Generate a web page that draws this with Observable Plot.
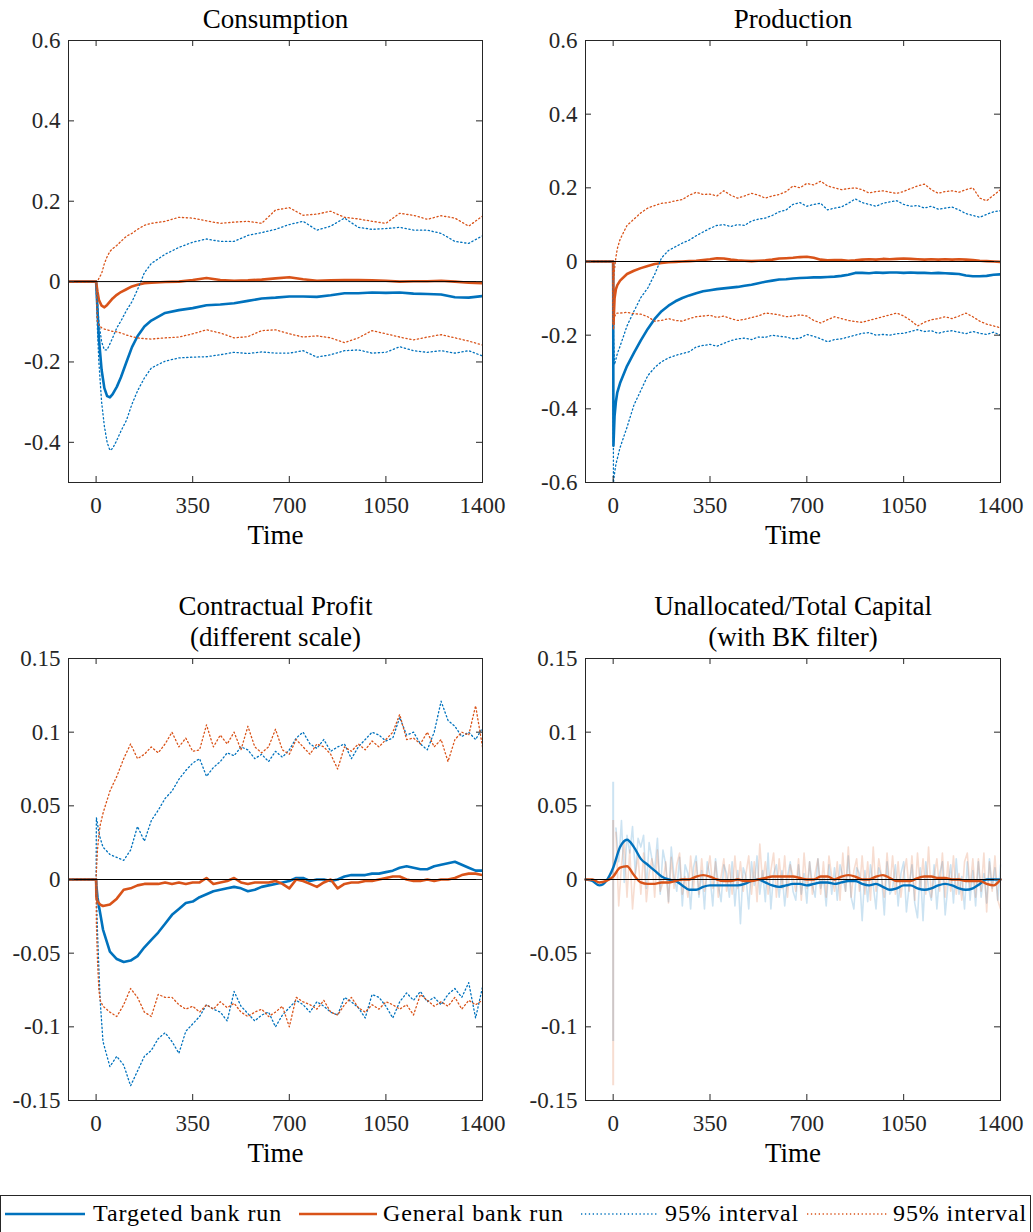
<!DOCTYPE html>
<html><head><meta charset="utf-8">
<script src="https://cdn.jsdelivr.net/npm/d3@7"></script>
<script src="https://cdn.jsdelivr.net/npm/@observablehq/plot@0.6"></script>
<style>
html,body{margin:0;padding:0;background:#fff;}
body{width:1033px;height:1232px;overflow:hidden;position:relative;font-family:"Liberation Serif","Times New Roman",serif;}
.panel{position:absolute;}
.panel svg{overflow:visible;}
.panel svg text{font-family:"Liberation Serif","Times New Roman",serif;}
#legend{position:absolute;left:0;top:1195px;width:1029px;height:50px;border:1px solid #262626;background:#fff;}
.lg-line{position:absolute;top:16px;}
.lg-text{position:absolute;top:1px;font-size:24px;letter-spacing:0.9px;color:#000;white-space:nowrap;line-height:32px;}
</style></head>
<body>
<div id="p1" class="panel" style="left:0;top:0"></div>
<div id="p2" class="panel" style="left:516px;top:0"></div>
<div id="p3" class="panel" style="left:0;top:580px"></div>
<div id="p4" class="panel" style="left:516px;top:580px"></div>
<div id="legend"></div>
<script>
// ---------- shared axis data ----------
const xTicks = [0, 350, 700, 1050, 1400];
const xTickLabels = ["0", "350", "700", "1050", "1400"];
const seriesNames = ["Targeted bank run", "General bank run", "95% interval", "95% interval"];

// ---------- Consumption ----------
const consTitle = "Consumption";
const consYTicks = [-0.4, -0.2, 0, 0.2, 0.4, 0.6];
const consYLabels = ["-0.4", "-0.2", "0", "0.2", "0.4", "0.6"];
const consTime = [-100,0,5,10,20,30,40,50,60,75,90,110,130,150,175,200,250,300,350,400,450,500,550,600,650,700,750,800,850,900,950,1000,1050,1100,1150,1200,1250,1300,1350,1400];
const consTargeted = [0,0,-0.07,-0.14,-0.22,-0.265,-0.285,-0.288,-0.28,-0.262,-0.238,-0.2,-0.163,-0.136,-0.112,-0.097,-0.078,-0.071,-0.066,-0.059,-0.057,-0.054,-0.048,-0.042,-0.04,-0.037,-0.037,-0.038,-0.034,-0.029,-0.029,-0.027,-0.028,-0.027,-0.03,-0.031,-0.032,-0.039,-0.04,-0.036];
const consGeneral = [0,0,-0.025,-0.045,-0.06,-0.064,-0.058,-0.05,-0.042,-0.033,-0.026,-0.019,-0.012,-0.008,-0.004,-0.003,-0.001,0,0.004,0.009,0.004,0.002,0.003,0.005,0.008,0.011,0.006,0.002,0.003,0.004,0.004,0.003,0.002,0,0.001,0.001,0.002,0,-0.003,-0.004];
const consTargetedHi = [0,0,-0.05,-0.1,-0.15,-0.17,-0.17,-0.155,-0.14,-0.115,-0.098,-0.072,-0.05,-0.02,0.022,0.045,0.068,0.085,0.098,0.106,0.1,0.1,0.115,0.122,0.13,0.142,0.15,0.128,0.138,0.158,0.135,0.13,0.132,0.135,0.128,0.128,0.12,0.1,0.095,0.114];
const consTargetedLo = [0,0,-0.12,-0.2,-0.3,-0.36,-0.4,-0.42,-0.415,-0.395,-0.372,-0.345,-0.305,-0.272,-0.24,-0.215,-0.198,-0.19,-0.188,-0.187,-0.182,-0.176,-0.179,-0.175,-0.178,-0.178,-0.172,-0.188,-0.182,-0.172,-0.17,-0.178,-0.176,-0.162,-0.172,-0.176,-0.172,-0.178,-0.172,-0.185];
const consGeneralHi = [0,0,0,0.008,0.02,0.045,0.062,0.075,0.082,0.09,0.1,0.113,0.12,0.13,0.14,0.145,0.15,0.16,0.158,0.151,0.145,0.148,0.15,0.145,0.178,0.184,0.165,0.168,0.175,0.16,0.156,0.15,0.145,0.17,0.165,0.155,0.164,0.158,0.138,0.163];
const consGeneralLo = [0,0,-0.1,-0.108,-0.115,-0.118,-0.12,-0.122,-0.124,-0.125,-0.128,-0.133,-0.137,-0.14,-0.142,-0.143,-0.14,-0.138,-0.13,-0.12,-0.128,-0.14,-0.137,-0.122,-0.12,-0.13,-0.138,-0.135,-0.14,-0.152,-0.14,-0.122,-0.13,-0.138,-0.145,-0.138,-0.132,-0.14,-0.148,-0.158];

// ---------- Production ----------
const prodTitle = "Production";
const prodYTicks = [-0.6, -0.4, -0.2, 0, 0.2, 0.4, 0.6];
const prodYLabels = ["-0.6", "-0.4", "-0.2", "0", "0.2", "0.4", "0.6"];
const prodTime = [-100,0,1,5,10,15,25,50,75,100,125,150,175,200,225,250,275,300,325,350,375,400,425,450,475,500,525,550,575,600,625,650,675,700,725,750,775,800,825,850,875,900,925,950,975,1000,1025,1050,1075,1100,1125,1150,1175,1200,1225,1250,1275,1300,1325,1350,1375,1400];
const prodTargeted = [0,0,-0.5,-0.42,-0.38,-0.355,-0.33,-0.284,-0.248,-0.214,-0.183,-0.156,-0.135,-0.12,-0.108,-0.099,-0.092,-0.086,-0.081,-0.078,-0.075,-0.073,-0.071,-0.069,-0.066,-0.063,-0.059,-0.055,-0.052,-0.049,-0.048,-0.046,-0.045,-0.044,-0.043,-0.043,-0.042,-0.041,-0.039,-0.036,-0.031,-0.031,-0.032,-0.03,-0.031,-0.03,-0.03,-0.031,-0.03,-0.031,-0.031,-0.032,-0.031,-0.032,-0.033,-0.034,-0.038,-0.04,-0.04,-0.039,-0.036,-0.035];
const prodGeneral = [0,0,-0.17,-0.1,-0.075,-0.064,-0.052,-0.034,-0.025,-0.018,-0.012,-0.007,-0.004,-0.002,-0.001,0,0.001,0.002,0.004,0.006,0.009,0.008,0.005,0.003,0.002,0.001,0.002,0.003,0.005,0.008,0.009,0.01,0.012,0.013,0.01,0.005,0.003,0.004,0.004,0.002,0.003,0.005,0.006,0.005,0.007,0.006,0.007,0.008,0.007,0.006,0.005,0.006,0.005,0.006,0.005,0.006,0.005,0.004,0.002,0.001,0,-0.001];
const prodTargetedHi = [0,0,-0.2,-0.28,-0.265,-0.25,-0.23,-0.175,-0.135,-0.098,-0.072,-0.035,0.01,0.03,0.04,0.05,0.058,0.07,0.08,0.09,0.098,0.1,0.095,0.1,0.098,0.11,0.115,0.118,0.125,0.135,0.14,0.155,0.16,0.15,0.155,0.158,0.14,0.145,0.148,0.158,0.17,0.16,0.155,0.15,0.158,0.162,0.165,0.155,0.15,0.152,0.145,0.15,0.142,0.145,0.148,0.14,0.13,0.125,0.12,0.128,0.135,0.138];
const prodTargetedLo = [0,0,-0.6,-0.575,-0.55,-0.535,-0.505,-0.45,-0.39,-0.35,-0.31,-0.288,-0.272,-0.262,-0.255,-0.25,-0.245,-0.232,-0.228,-0.225,-0.23,-0.222,-0.215,-0.21,-0.208,-0.212,-0.205,-0.206,-0.2,-0.203,-0.205,-0.21,-0.208,-0.198,-0.203,-0.21,-0.218,-0.212,-0.21,-0.205,-0.2,-0.195,-0.193,-0.2,-0.198,-0.2,-0.196,-0.195,-0.19,-0.185,-0.19,-0.188,-0.195,-0.19,-0.188,-0.192,-0.196,-0.19,-0.195,-0.198,-0.192,-0.2];
const prodGeneralHi = [0,0,-0.05,-0.02,0.012,0.035,0.06,0.098,0.115,0.132,0.145,0.152,0.158,0.16,0.165,0.168,0.18,0.188,0.182,0.183,0.178,0.192,0.18,0.172,0.178,0.185,0.18,0.172,0.178,0.182,0.19,0.205,0.2,0.212,0.208,0.218,0.205,0.2,0.195,0.198,0.2,0.195,0.186,0.19,0.192,0.188,0.185,0.19,0.198,0.205,0.21,0.195,0.185,0.19,0.192,0.188,0.195,0.2,0.172,0.165,0.18,0.195];
const prodGeneralLo = [0,0,-0.185,-0.15,-0.142,-0.14,-0.14,-0.138,-0.142,-0.143,-0.15,-0.162,-0.16,-0.155,-0.16,-0.162,-0.155,-0.15,-0.148,-0.146,-0.152,-0.148,-0.155,-0.16,-0.157,-0.152,-0.148,-0.14,-0.142,-0.145,-0.15,-0.148,-0.145,-0.148,-0.16,-0.167,-0.158,-0.15,-0.155,-0.16,-0.163,-0.165,-0.16,-0.155,-0.15,-0.145,-0.14,-0.148,-0.16,-0.175,-0.165,-0.158,-0.155,-0.15,-0.155,-0.148,-0.14,-0.15,-0.162,-0.17,-0.175,-0.18];

// ---------- Contractual Profit ----------
const profTitle = "Contractual Profit\n(different scale)";
const profYTicks = [-0.15, -0.1, -0.05, 0, 0.05, 0.1, 0.15];
const profYLabels = ["-0.15", "-0.1", "-0.05", "0", "0.05", "0.1", "0.15"];
const profTime = [-100,0,1,5,10,15,25,50,75,100,125,150,175,200,225,250,275,300,325,350,375,400,425,450,475,500,525,550,575,600,625,650,675,700,725,750,775,800,825,850,875,900,925,950,975,1000,1025,1050,1075,1100,1125,1150,1175,1200,1225,1250,1275,1300,1325,1350,1375,1400];
const profTargeted = [0,0,-0.004,-0.012,-0.018,-0.023,-0.034,-0.049,-0.054,-0.056,-0.055,-0.052,-0.046,-0.041,-0.036,-0.03,-0.024,-0.02,-0.016,-0.015,-0.012,-0.01,-0.008,-0.007,-0.006,-0.005,-0.006,-0.008,-0.007,-0.005,-0.004,-0.003,-0.002,-0.001,0.001,0.001,-0.001,0,0,-0.001,0,0.002,0.003,0.003,0.003,0.004,0.004,0.005,0.006,0.008,0.009,0.008,0.007,0.007,0.009,0.01,0.011,0.012,0.01,0.008,0.006,0.006];
const profGeneral = [0,0,-0.012,-0.015,-0.016,-0.017,-0.018,-0.017,-0.013,-0.007,-0.006,-0.004,-0.003,-0.003,-0.003,-0.002,-0.003,-0.002,-0.003,-0.002,-0.002,0.001,-0.003,-0.002,-0.001,0.001,-0.002,-0.003,-0.002,-0.002,-0.002,-0.001,-0.003,-0.006,0,-0.001,-0.003,-0.005,-0.002,0,-0.006,-0.003,-0.002,-0.002,-0.001,-0.001,0,0.001,0.002,0.002,0,-0.001,-0.001,0,-0.001,0,0,0.001,0.003,0.004,0.004,0.003];
const profTargetedHi = [0,0,0.042,0.038,0.032,0.028,0.022,0.017,0.015,0.013,0.02,0.036,0.026,0.04,0.047,0.055,0.06,0.068,0.074,0.079,0.082,0.07,0.076,0.08,0.086,0.084,0.09,0.088,0.082,0.085,0.08,0.087,0.083,0.088,0.096,0.1,0.092,0.089,0.095,0.087,0.09,0.092,0.082,0.09,0.095,0.1,0.098,0.094,0.096,0.11,0.098,0.1,0.092,0.088,0.1,0.121,0.108,0.104,0.097,0.1,0.095,0.103];
const profTargetedLo = [0,0,-0.01,-0.035,-0.06,-0.083,-0.11,-0.127,-0.12,-0.126,-0.14,-0.13,-0.12,-0.116,-0.108,-0.104,-0.11,-0.118,-0.103,-0.098,-0.093,-0.085,-0.088,-0.09,-0.096,-0.076,-0.086,-0.091,-0.096,-0.092,-0.09,-0.1,-0.092,-0.087,-0.082,-0.085,-0.09,-0.083,-0.086,-0.09,-0.092,-0.08,-0.083,-0.087,-0.094,-0.078,-0.08,-0.086,-0.094,-0.083,-0.077,-0.082,-0.076,-0.083,-0.08,-0.085,-0.078,-0.074,-0.08,-0.07,-0.094,-0.073];
const profGeneralHi = [0,0,0.005,0.02,0.03,0.037,0.045,0.06,0.07,0.082,0.092,0.082,0.085,0.09,0.086,0.092,0.1,0.09,0.096,0.087,0.088,0.105,0.09,0.098,0.092,0.1,0.088,0.104,0.09,0.086,0.09,0.102,0.088,0.085,0.095,0.09,0.085,0.092,0.09,0.085,0.075,0.09,0.087,0.092,0.088,0.094,0.09,0.095,0.1,0.112,0.095,0.096,0.092,0.1,0.09,0.095,0.08,0.095,0.1,0.098,0.118,0.09];
const profGeneralLo = [0,0,-0.03,-0.055,-0.075,-0.082,-0.086,-0.09,-0.093,-0.085,-0.074,-0.08,-0.09,-0.093,-0.078,-0.08,-0.08,-0.085,-0.088,-0.086,-0.09,-0.085,-0.088,-0.083,-0.087,-0.084,-0.09,-0.093,-0.09,-0.088,-0.093,-0.09,-0.086,-0.1,-0.08,-0.083,-0.085,-0.088,-0.082,-0.09,-0.092,-0.085,-0.08,-0.087,-0.09,-0.085,-0.088,-0.083,-0.085,-0.088,-0.085,-0.092,-0.078,-0.082,-0.086,-0.083,-0.086,-0.08,-0.088,-0.082,-0.085,-0.082];

// ---------- Unallocated / Total Capital (BK filter) ----------
const bkTitle = "Unallocated/Total Capital\n(with BK filter)";
const bkYTicks = profYTicks;
const bkYLabels = profYLabels;
const bkTime = [-100,-75,-50,-25,0,25,50,75,100,125,150,175,200,225,250,275,300,325,350,375,400,425,450,475,500,525,550,575,600,625,650,675,700,725,750,775,800,825,850,875,900,925,950,975,1000,1025,1050,1075,1100,1125,1150,1175,1200,1225,1250,1275,1300,1325,1350,1375,1400];
const bkTargeted = [0,-0.001,-0.004,-0.001,0.008,0.022,0.027,0.022,0.014,0.01,0.006,0.002,0,-0.001,-0.004,-0.007,-0.007,-0.005,-0.004,-0.004,-0.004,-0.004,-0.004,-0.003,-0.001,0,-0.002,-0.004,-0.005,-0.004,-0.003,-0.003,-0.004,-0.003,-0.002,-0.002,-0.003,-0.002,-0.001,-0.001,-0.003,-0.004,-0.003,-0.005,-0.007,-0.006,-0.004,-0.004,-0.006,-0.007,-0.006,-0.004,-0.003,-0.004,-0.006,-0.007,-0.006,-0.003,0,0,0];
const bkGeneral = [0,0,-0.002,-0.001,0.002,0.008,0.009,0.003,-0.002,-0.003,-0.003,-0.002,-0.002,-0.001,0,0,0.002,0.003,0.002,0,-0.001,-0.001,0,-0.001,-0.001,0,0.001,0.002,0.002,0.002,0.002,0.001,0,0,0.002,0.002,0,0.002,0.003,0.002,0,0,0.002,0.003,0.001,-0.001,-0.001,-0.001,0.001,0.002,0.002,0.001,0.001,0,0,-0.001,-0.001,-0.001,-0.003,-0.004,0];
// raw (unfiltered) series, one value every 10 periods from t = 10 to 1400
const bkRawStep = 10;
const bkRawTargeted = [
0.035,0.012,0.04,-0.002,0.03,0.018,0.036,0.004,0.028,0.022,
0.03,-0.006,0.025,0.014,0.006,0.028,-0.01,0.02,0.01,-0.015,
0.022,0.002,-0.008,0.015,-0.018,0.01,0.004,-0.02,0.008,0.016,
-0.012,0.006,-0.02,0.012,0.002,-0.018,0.014,-0.004,-0.015,0.01,
0.004,-0.012,0.012,-0.018,0.006,-0.03,0.008,0.002,-0.02,0.012,
-0.004,0.016,-0.01,0.006,-0.015,0.018,-0.02,0.004,0.01,-0.012,
0.006,-0.018,0.002,0.012,-0.008,-0.014,0.01,-0.01,0.004,-0.016,
0.012,-0.004,-0.012,0.014,-0.006,0.002,-0.018,0.01,-0.01,0.008,
-0.014,0.01,0.002,-0.008,0.016,-0.012,-0.02,0.008,0.004,-0.028,
0.006,-0.015,0.01,-0.004,-0.02,0.008,0.002,-0.024,0.012,-0.01,
-0.006,0.01,-0.018,0.004,0.012,-0.022,-0.004,0.01,-0.016,-0.026,
0.008,-0.028,0.012,-0.006,-0.014,0.01,-0.02,0.004,0.012,-0.024,
-0.004,0.01,-0.016,0.014,-0.01,0.002,-0.02,0.012,-0.014,0.006,
-0.018,0.012,-0.012,0.004,-0.016,0.014,-0.006,0.008,-0.014,0.01];
const bkRawGeneral = [
0.032,-0.018,0.01,0.026,-0.012,0.02,-0.02,0.004,0.016,-0.01,
0.018,-0.015,0.004,0.014,-0.012,0.02,-0.008,-0.002,0.012,-0.016,
0.015,-0.006,0.01,0.018,-0.01,0.002,-0.012,0.016,-0.006,0.012,
-0.01,0.014,-0.008,0.004,0.016,-0.006,0.012,-0.012,0.002,0.014,
-0.008,0.01,-0.01,0.016,-0.006,0.012,-0.008,0.004,0.016,-0.01,
0.012,-0.015,0.024,-0.002,0.012,-0.01,0.006,0.018,-0.012,0.014,
-0.006,0.016,-0.012,0.01,0.002,-0.008,0.014,-0.014,0.018,-0.006,
0.012,-0.01,0.004,0.014,-0.01,0.012,-0.012,0.016,0.002,-0.008,
0.012,-0.014,0.018,-0.008,0.022,-0.012,0.006,0.014,-0.008,0.016,
-0.01,0.012,-0.014,0.022,-0.008,0.014,0.002,-0.012,0.018,-0.006,
0.016,-0.01,0.012,-0.012,0.004,0.014,-0.008,0.016,-0.014,0.018,
-0.006,0.014,-0.01,0.022,-0.012,0.002,0.014,-0.008,0.018,-0.012,
0.012,-0.008,0.016,-0.01,0.004,-0.014,0.012,0.018,-0.006,0.014,
-0.012,0.014,-0.008,0.018,-0.022,0.012,-0.008,0.016,-0.014,-0.02];
// the jump at t = 0 in the raw series: [top, bottom]
const bkSpikeTargeted = [0.066, -0.11];
const bkSpikeGeneral = [0.04, -0.14];

// ---------- styling ----------
const BLUE = "#0072BD", ORANGE = "#D95319", AX = "#262626";
const BLUE_RAW = "rgba(0,114,189,0.2)", ORANGE_RAW = "rgba(217,83,25,0.2)";
const FONT = '"Liberation Serif","Times New Roman",serif';
const DOT = "1.3,2.6";

const rows = (time, vals) => time.map((t, i) => ({t, v: vals[i]}));
const solid = (time, vals, color) => Plot.line(rows(time, vals), {x: "t", y: "v", stroke: color, strokeWidth: 2.6, clip: true});
const dotted = (time, vals, color) => Plot.line(rows(time, vals), {x: "t", y: "v", stroke: color, strokeWidth: 1.3, strokeDasharray: DOT, clip: true});

function panel(el, cfg) {
  const {width, height, mt, mb, ml, mr, yDomain, yTicks, yLabels, title, titleDy, marks} = cfg;
  const pw = width - ml - mr, ph = height - mt - mb;
  const fmtX = d => xTickLabels[xTicks.indexOf(d)];
  const fmtY = d => yLabels[yTicks.findIndex(v => Math.abs(v - d) < 1e-9)];
  const svg = Plot.plot({
    width, height, marginTop: mt, marginBottom: mb, marginLeft: ml, marginRight: mr,
    x: {domain: [-100, 1400]},
    y: {domain: yDomain},
    style: {fontFamily: FONT, fontSize: "23px", color: AX, background: "white", overflow: "visible"},
    marks: [
      ...marks,
      Plot.ruleY([0], {stroke: "black", strokeWidth: 1}),
      Plot.frame({stroke: AX, strokeWidth: 1}),
      Plot.tickX(xTicks, {x: d => d, insetTop: ph - 6, stroke: AX}),
      Plot.tickX(xTicks, {x: d => d, insetBottom: ph - 6, stroke: AX}),
      Plot.tickY(yTicks, {y: d => d, insetRight: pw - 6, stroke: AX}),
      Plot.tickY(yTicks, {y: d => d, insetLeft: pw - 6, stroke: AX}),
      Plot.axisX({ticks: xTicks, tickSize: 0, tickPadding: 14, tickFormat: fmtX, label: null, fontSize: 23, fontFamily: FONT, fontVariant: "normal"}),
      Plot.axisY({ticks: yTicks, tickSize: 0, tickPadding: 8, tickFormat: fmtY, label: null, fontSize: 23, fontFamily: FONT, fontVariant: "normal"}),
      Plot.text([title], {text: d => d, frameAnchor: "top", dy: titleDy, lineAnchor: "middle", fontSize: 27, lineHeight: 1.15, fill: "black", letterSpacing: 1, fontFamily: FONT}),
      Plot.text(["Time"], {text: d => d, frameAnchor: "bottom", dy: 53, lineAnchor: "middle", fontSize: 27, fill: "black", letterSpacing: 1.2, fontFamily: FONT})
    ]
  });
  el.append(svg);
}

const topCfg = {width: 516, height: 560, mt: 40, mb: 78, titleDy: -22};
const bottomCfg = {width: 516, height: 598, mt: 78, mb: 78, titleDy: -37.5};

panel(document.getElementById("p1"), {...topCfg, ml: 68, mr: 34,
  yDomain: [-0.5, 0.6], yTicks: consYTicks, yLabels: consYLabels, title: consTitle,
  marks: [
    solid(consTime, consTargeted, BLUE), solid(consTime, consGeneral, ORANGE),
    dotted(consTime, consTargetedHi, BLUE), dotted(consTime, consTargetedLo, BLUE),
    dotted(consTime, consGeneralHi, ORANGE), dotted(consTime, consGeneralLo, ORANGE)
  ]});

panel(document.getElementById("p2"), {...topCfg, width: 517, ml: 69, mr: 33,
  yDomain: [-0.6, 0.6], yTicks: prodYTicks, yLabels: prodYLabels, title: prodTitle,
  marks: [
    solid(prodTime, prodTargeted, BLUE), solid(prodTime, prodGeneral, ORANGE),
    dotted(prodTime, prodTargetedHi, BLUE), dotted(prodTime, prodTargetedLo, BLUE),
    dotted(prodTime, prodGeneralHi, ORANGE), dotted(prodTime, prodGeneralLo, ORANGE)
  ]});

panel(document.getElementById("p3"), {...bottomCfg, ml: 68, mr: 34,
  yDomain: [-0.15, 0.15], yTicks: profYTicks, yLabels: profYLabels, title: profTitle,
  marks: [
    solid(profTime, profTargeted, BLUE), solid(profTime, profGeneral, ORANGE),
    dotted(profTime, profTargetedHi, BLUE), dotted(profTime, profTargetedLo, BLUE),
    dotted(profTime, profGeneralHi, ORANGE), dotted(profTime, profGeneralLo, ORANGE)
  ]});

const rawRows = vals => vals.map((v, i) => ({t: bkRawStep * (i + 1), v}));
panel(document.getElementById("p4"), {...bottomCfg, width: 517, ml: 69, mr: 33,
  yDomain: [-0.15, 0.15], yTicks: bkYTicks, yLabels: bkYLabels, title: bkTitle,
  marks: [
    Plot.ruleX([bkSpikeTargeted], {x: () => 0, y1: d => d[0], y2: d => d[1], stroke: BLUE_RAW, strokeWidth: 2}),
    Plot.line(rawRows(bkRawTargeted), {x: "t", y: "v", stroke: BLUE_RAW, strokeWidth: 1.6}),
    Plot.ruleX([bkSpikeGeneral], {x: () => 0, y1: d => d[0], y2: d => d[1], stroke: ORANGE_RAW, strokeWidth: 2}),
    Plot.line(rawRows(bkRawGeneral), {x: "t", y: "v", stroke: ORANGE_RAW, strokeWidth: 1.6}),
    Plot.line(rows(bkTime, bkTargeted), {x: "t", y: "v", stroke: BLUE, strokeWidth: 2.4, curve: "monotone-x"}),
    Plot.line(rows(bkTime, bkGeneral), {x: "t", y: "v", stroke: ORANGE, strokeWidth: 2.4, curve: "monotone-x"})
  ]});

// ---------- legend ----------
const legend = document.getElementById("legend");
const legendItems = [
  {name: seriesNames[0], color: BLUE, dash: null, x0: 4, x1: 84, tx: 92},
  {name: seriesNames[1], color: ORANGE, dash: null, x0: 298, x1: 376, tx: 382},
  {name: seriesNames[2], color: BLUE, dash: DOT, x0: 580, x1: 658, tx: 664},
  {name: seriesNames[3], color: ORANGE, dash: DOT, x0: 806, x1: 886, tx: 892}
];
for (const it of legendItems) {
  const ns = "http://www.w3.org/2000/svg";
  const s = document.createElementNS(ns, "svg");
  s.setAttribute("class", "lg-line");
  s.setAttribute("width", it.x1 - it.x0);
  s.setAttribute("height", 4);
  s.style.left = it.x0 + "px";
  const l = document.createElementNS(ns, "line");
  l.setAttribute("x1", 0); l.setAttribute("x2", it.x1 - it.x0);
  l.setAttribute("y1", 2); l.setAttribute("y2", 2);
  l.setAttribute("stroke", it.color);
  l.setAttribute("stroke-width", it.dash ? 1.3 : 2.6);
  if (it.dash) l.setAttribute("stroke-dasharray", it.dash);
  s.append(l);
  legend.append(s);
  const t = document.createElement("div");
  t.className = "lg-text";
  t.style.left = it.tx + "px";
  t.textContent = it.name;
  legend.append(t);
}
</script>
</body></html>
